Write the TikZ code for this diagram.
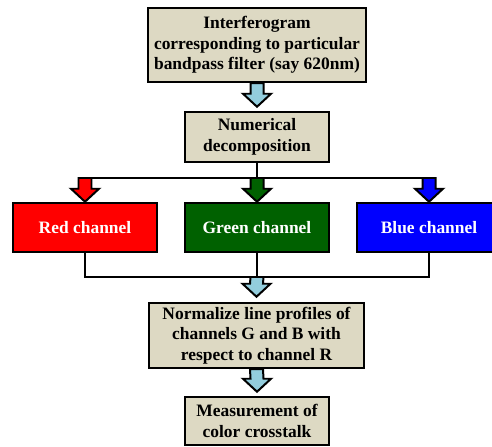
\documentclass[tikz,border=0pt]{standalone}
\usepackage{fontspec}
\setmainfont{Liberation Serif}
\usetikzlibrary{calc}
\definecolor{boxbeige}{RGB}{221,217,195}
\definecolor{arrowblue}{RGB}{147,205,221}
\definecolor{chgreen}{RGB}{0,97,0}
\def\fatarrow[#1](#2)(#3){\draw[line width=2pt, fill=#1] ($(#2)+(-6.5,0)$) -- ($(#3)+(-6.5,-13)$) -- ($(#3)+(-14,-13)$) -- (#3) -- ($(#3)+(14,-13)$) -- ($(#3)+(6.5,-13)$) -- ($(#2)+(6.5,0)$) -- cycle;}
\tikzset{
	box/.style={draw, line width=2.5bp, fill=boxbeige, align=center, inner sep=2pt,
		font=\bfseries\fontsize{17.5}{20.5}\selectfont},
	chan/.style={box, text=white, minimum width=144bp, minimum height=49bp},
	link/.style={line width=2.5bp}
}

\begin{document}
\begin{tikzpicture}[x=1bp, y=-1bp]
		%%%%% START %%%%%
		\useasboundingbox (0, 0) rectangle (492, 447);
		\clip (0, 0) rectangle (492, 447);
		
		\node[box, minimum width=218bp, minimum height=74bp] (interf) at (257, 45) {Interferogram\\corresponding to particular\\bandpass filter (say 620nm)};
		\node[box, minimum width=144bp, minimum height=50bp] (decomp) at (257, 137) {Numerical\\decomposition};
		
		\node[chan, fill=red] (red) at (85, 227.5) {Red channel};
		\node[chan, fill=chgreen] (green) at (257, 227.5) {Green channel};
		\node[chan, fill=blue] (blue) at (429, 227.5) {Blue channel};
		
		\node[box, minimum width=215bp, minimum height=65bp] (norm) at (256.5, 335.5) {Normalize line profiles of\\channels G and B with\\respect to channel R};
		\node[box, minimum width=144bp, minimum height=48bp] (measure) at (257, 421) {Measurement of\\color crosstalk};
		
		\coordinate (split) at (257, 178);
		\coordinate (join) at (257, 277);
		\coordinate (decomptip) at ($(decomp.north)+(0,-4)$);
		\coordinate (normtip) at ($(norm.north)+(0,-5)$);
		\coordinate (measuretip) at ($(measure.north)+(0,-4)$);
		
		\fatarrow[arrowblue](interf.south)(decomptip);
		
		\draw[link] (decomp.south) -- (split);
		\draw[link] (split -| red) -- (split -| blue);
		\fatarrow[red](split -| red)(red.north);
		\fatarrow[chgreen](split)(green.north);
		\fatarrow[blue](split -| blue)(blue.north);
		
		\draw[link] (red.south) |- (join -| blue) -- (blue.south);
		\draw[link] (green.south) -- (join);
		\fatarrow[arrowblue](join)(normtip);
		
		\fatarrow[arrowblue](norm.south)(measuretip);
		%%%%% END %%%%%
	\end{tikzpicture}
\end{document}
